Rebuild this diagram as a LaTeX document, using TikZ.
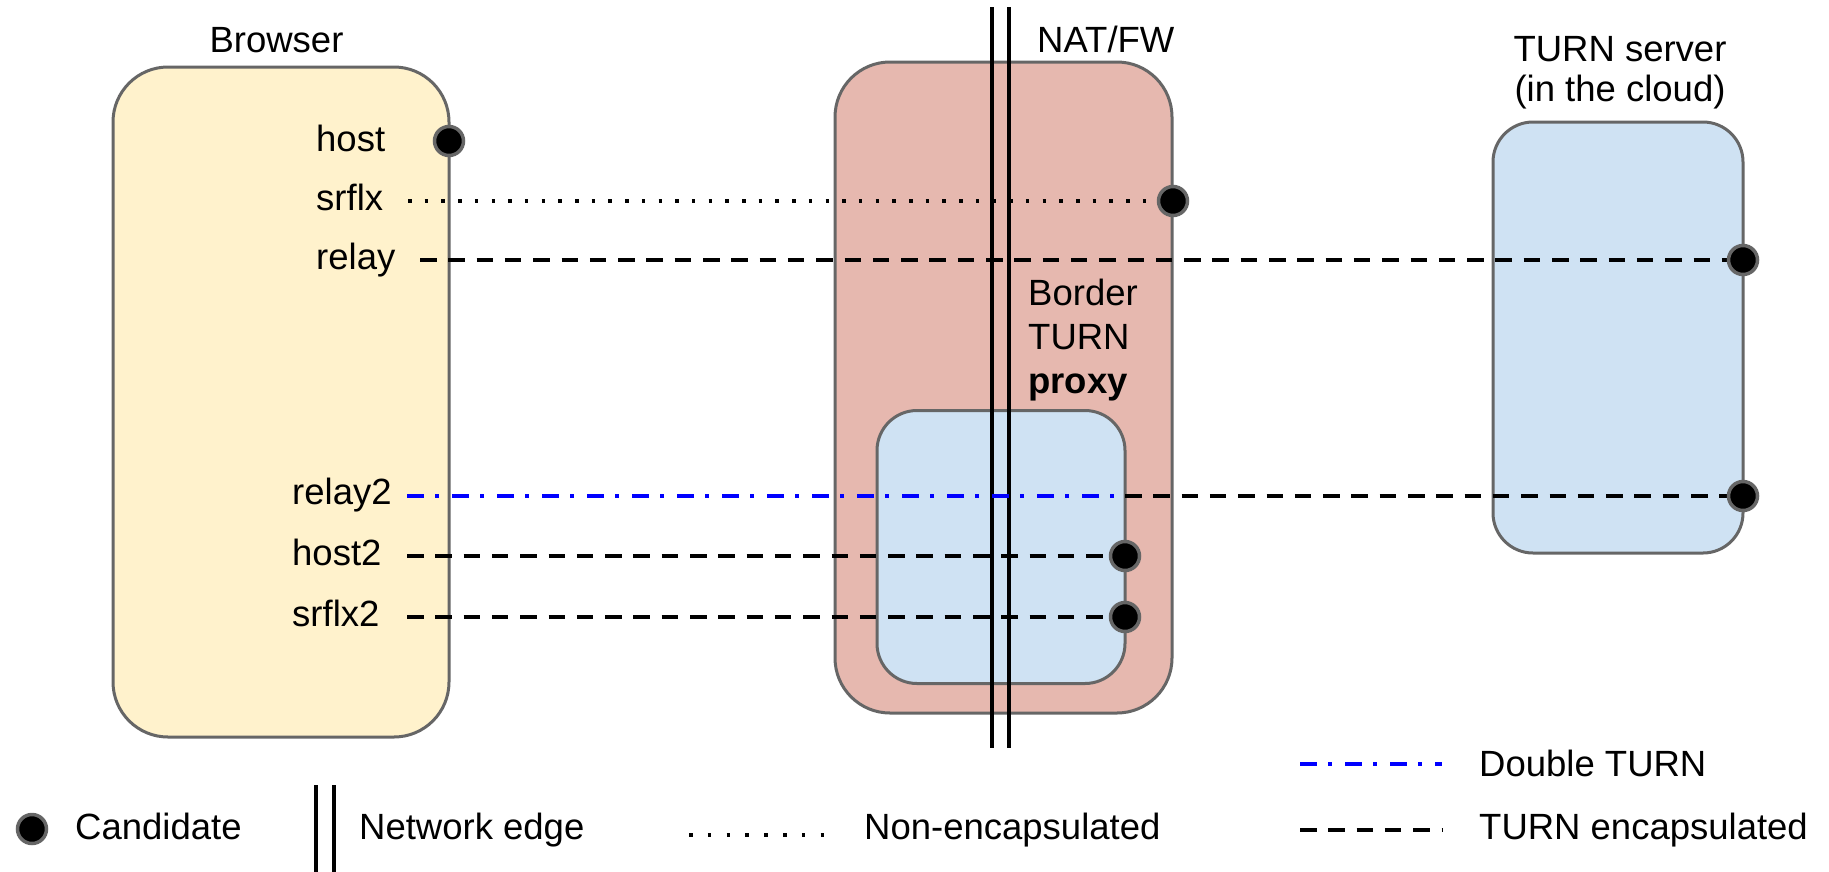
\documentclass[tikz,border=0pt]{standalone}
\usepackage{fontspec}
\setmainfont{Liberation Sans}
\definecolor{edgegray}{HTML}{666666}
\definecolor{browserfill}{HTML}{FFF2CC}
\definecolor{natfill}{HTML}{E6B8AF}
\definecolor{turnfill}{HTML}{CFE2F3}
\definecolor{dtblue}{HTML}{0000FF}
\tikzset{
  box/.style={draw=edgegray, line width=3pt, rectangle, inner sep=0pt},
  cand/.style={circle, fill=black, draw=edgegray, line width=3.5pt, minimum size=29pt, inner sep=0pt},
  lbl/.style={font=\fontsize{36.5}{44}\selectfont, inner sep=0pt, anchor=base west},
  ttl/.style={font=\fontsize{36.5}{44}\selectfont, inner sep=0pt, anchor=base},
  noenc/.style={line width=3.5pt, dash pattern=on 3.5pt off 13.2pt},
  turnenc/.style={line width=3.5pt, dash pattern=on 16.5pt off 11.8pt},
  dblturn/.style={line width=3.5pt, draw=dtblue, dash pattern=on 16.7pt off 11.7pt on 3.3pt off 13.3pt},
  netedge/.style={line width=3.5pt}
}
\begin{document}
\begin{tikzpicture}[x=1pt,y=-1pt]
\useasboundingbox (0,0) rectangle (1829,871);
% boxes
\node[box, fill=browserfill, rounded corners=55pt, minimum width=336pt, minimum height=670pt] (browser) at (281,402) {};
\node[box, fill=natfill, rounded corners=55pt, minimum width=337pt, minimum height=651pt] (nat) at (1003.5,387.5) {};
\node[box, fill=turnfill, rounded corners=40pt, minimum width=248pt, minimum height=273pt] (proxy) at (1001,547) {};
\node[box, fill=turnfill, rounded corners=40pt, minimum width=250pt, minimum height=431pt] (turn) at (1618,337.5) {};
% titles
\node[ttl] (browsert) at (276.5,52) {Browser};
\node[lbl] (natt) at (1037,52) {NAT/FW};
\node[ttl] (turnt1) at (1620,61) {TURN server};
\node[ttl] (turnt2) at (1620,101) {(in the cloud)};
\node[lbl] (bt1) at (1028,305) {Border};
\node[lbl] (bt2) at (1028,349) {TURN};
\node[lbl, font=\fontsize{36.5}{44}\selectfont\bfseries] (bt3) at (1028,393) {proxy};
% candidate labels
\node[lbl] (lhost) at (316,151) {host};
\node[lbl] (lsrflx) at (316,210) {srflx};
\node[lbl] (lrelay) at (316,269) {relay};
\node[lbl] (lrelay2) at (292,504) {relay2};
\node[lbl] (lhost2) at (292,565) {host2};
\node[lbl] (lsrflx2) at (292,626) {srflx2};
% dot positions
\coordinate (chost) at (449,141);
\coordinate (csrflx) at (1173,201);
\coordinate (crelay) at (1743,260);
\coordinate (crelay2) at (1743,496);
\coordinate (chost2) at (1125,556);
\coordinate (csrflx2) at (1125,617);
\coordinate (cproxy) at (1125,496);
% line starts
\coordinate (ssrflx) at (408,201);
\coordinate (srelay) at (420,260);
\coordinate (srelay2) at (407,496);
\coordinate (shost2) at (407,556);
\coordinate (ssrflx2) at (407,617);
% network edge
\coordinate (ne1t) at (992,7);
\coordinate (ne1b) at (992,748);
\coordinate (ne2t) at (1009,7);
\coordinate (ne2b) at (1009,748);
\draw[netedge] (ne1t) -- (ne1b);
\draw[netedge] (ne2t) -- (ne2b);
% connectors
\draw[noenc] (ssrflx) -- (csrflx);
\draw[turnenc] (srelay) -- (crelay);
\draw[dblturn] (srelay2) -- (cproxy);
\draw[turnenc] (cproxy) -- (crelay2);
\draw[turnenc] (shost2) -- (chost2);
\draw[turnenc] (ssrflx2) -- (csrflx2);
% candidates
\node[cand] (dhost) at (chost) {};
\node[cand] (dsrflx) at (csrflx) {};
\node[cand] (drelay) at (crelay) {};
\node[cand] (drelay2) at (crelay2) {};
\node[cand] (dhost2) at (chost2) {};
\node[cand] (dsrflx2) at (csrflx2) {};
% legend
\node[cand] (legdot) at (32,829) {};
\node[lbl] (legcand) at (75,839) {Candidate};
\coordinate (lne1t) at (316,785);
\coordinate (lne1b) at (316,875);
\coordinate (lne2t) at (334,785);
\coordinate (lne2b) at (334,875);
\draw[netedge] (lne1t) -- (lne1b);
\draw[netedge] (lne2t) -- (lne2b);
\node[lbl] (legne) at (359,839) {Network edge};
\coordinate (lnoa) at (689,835);
\coordinate (lnob) at (826,835);
\draw[line width=3.5pt, dash pattern=on 3.5pt off 15.3pt] (lnoa) -- (lnob);
\node[lbl] (legno) at (864,839) {Non-encapsulated};
\coordinate (ldta) at (1300,764);
\coordinate (ldtb) at (1442,764);
\draw[dblturn] (ldta) -- (ldtb);
\node[lbl] (legdt) at (1479,776) {Double TURN};
\coordinate (ltea) at (1300,830);
\coordinate (lteb) at (1442,830);
\draw[turnenc] (ltea) -- (lteb);
\node[lbl] (legte) at (1479,839) {TURN encapsulated};
\end{tikzpicture}
\end{document}
